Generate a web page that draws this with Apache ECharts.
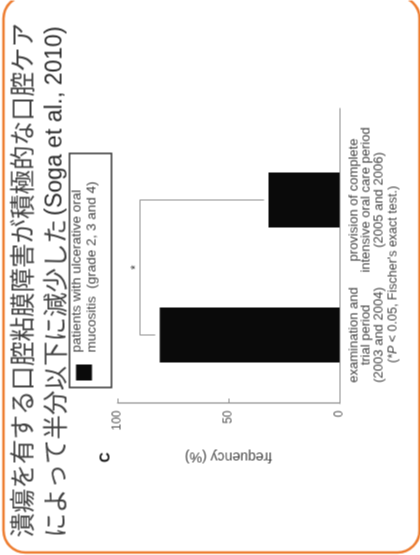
<!DOCTYPE html>
<html>
<head>
<meta charset="utf-8">
<script src="https://cdn.jsdelivr.net/npm/echarts@6/dist/echarts.min.js"></script>
<style>
    html, body {margin: 0; padding: 0; background: #fff; overflow: hidden;}
    /* the slide is shown turned a quarter turn counter-clockwise */
    #main {
        position: absolute; left: -67.5px; top: 67.5px;
        width: 555px; height: 420px;
        transform: rotate(-90deg); transform-origin: 50% 50%;
    }
</style>
</head>
<body>
<div id="main"></div>
<script>
const categories = [
    'examination and\ntrial period\n(2003 and 2004)',
    'provision of complete\nintensive oral care period\n(2005 and 2006)'
];
const frequency = [81, 32];
const axisMin = 0;
const axisMax = 100;
const axisStep = 50;
const bracketLevel = 90;
const bracketEnds = [83, 34];
const seriesName = 'patients with ulcerative oral\nmucositis  (grade 2, 3 and 4)';
const titleLine1 = '潰瘍を有する口腔粘膜障害が積極的な口腔ケア';
const titleLine2 = 'によって半分以下に減少した';
const citation = '(Soga et al., 2010)';

const latin = '"Liberation Sans", Arial, sans-serif';
const jp = '"Noto Sans CJK JP", sans-serif';
const axisGray = '#8a8a8a';

const chart = echarts.init(document.getElementById('main'), null, {renderer: 'canvas'});

chart.setOption({
    animation: false,
    backgroundColor: '#fff',
    textStyle: {fontFamily: latin},
    legend: {
        left: 168,
        top: 69,
        padding: [0, 28, 13, 7],
        borderColor: '#333',
        borderWidth: 1.5,
        selectedMode: false,
        icon: 'rect',
        itemWidth: 16,
        itemHeight: 16,
        textStyle: {
            fontSize: 13.5,
            lineHeight: 15,
            color: '#444',
            // pulls the two text lines down so the first one sits beside the square
            padding: [-11, 0, -11, 7]
        },
        data: [seriesName]
    },
    grid: [
        {left: 152, top: 117, width: 295, height: 222},
        {left: 153, top: 117, width: 270, height: 222}
    ],
    xAxis: [
        {
            gridIndex: 0,
            type: 'category',
            data: categories,
            axisLine: {lineStyle: {color: axisGray, width: 1.2}},
            axisTick: {show: false},
            axisLabel: {show: false}
        },
        {
            gridIndex: 1,
            type: 'category',
            data: categories,
            axisLine: {show: false},
            axisTick: {show: false},
            axisLabel: {
                interval: 0,
                margin: 8,
                fontSize: 13,
                lineHeight: 12.5,
                color: '#444'
            }
        }
    ],
    yAxis: [
        {
            gridIndex: 0,
            type: 'value',
            min: axisMin,
            max: axisMax,
            interval: axisStep,
            name: 'frequency (%)',
            nameLocation: 'middle',
            nameGap: 46,
            nameTextStyle: {fontSize: 14, color: '#444'},
            axisLine: {show: true, lineStyle: {color: axisGray, width: 1.2}},
            axisTick: {show: true, inside: true, length: 5, lineStyle: {color: axisGray}},
            axisLabel: {margin: 7, fontSize: 12, color: '#555'},
            splitLine: {show: false}
        },
        {
            gridIndex: 1,
            type: 'value',
            min: axisMin,
            max: axisMax,
            show: false
        }
    ],
    series: [
        {
            name: seriesName,
            type: 'bar',
            xAxisIndex: 1,
            yAxisIndex: 1,
            barWidth: 55,
            data: frequency,
            itemStyle: {color: '#0a0a0a'},
            markLine: {
                silent: true,
                symbol: ['none', 'none'],
                lineStyle: {color: '#8f8f8f', width: 1, type: 'solid'},
                label: {show: false},
                data: [
                    [{coord: [0, bracketEnds[0]]}, {coord: [0, bracketLevel]}],
                    [
                        {
                            coord: [0, bracketLevel],
                            label: {show: true, position: 'middle', formatter: '*', color: '#333', fontSize: 12, distance: -2}
                        },
                        {coord: [1, bracketLevel]}
                    ],
                    [{coord: [1, bracketLevel]}, {coord: [1, bracketEnds[1]]}]
                ]
            }
        }
    ],
    graphic: [
        {
            type: 'rect',
            silent: true,
            shape: {x: 3, y: 3, width: 556, height: 416, r: 22},
            style: {fill: 'none', stroke: '#ED7D31', lineWidth: 2.5}
        },
        {
            type: 'text',
            x: 18,
            y: 22,
            style: {
                text: titleLine1,
                fontSize: 24.5,
                fontFamily: jp,
                fill: '#404040',
                verticalAlign: 'middle'
            }
        },
        {
            type: 'text',
            x: 18,
            y: 55,
            style: {
                text: '{j|' + titleLine2 + '} {e|' + citation + '}',
                verticalAlign: 'middle',
                rich: {
                    j: {fontSize: 24.5, fontFamily: jp, fill: '#404040'},
                    e: {fontSize: 23, fontFamily: latin, fill: '#2a2a2a'}
                }
            }
        },
        {
            type: 'text',
            x: 98,
            y: 105,
            style: {
                text: 'C',
                font: 'bold 14px ' + latin,
                fill: '#111',
                align: 'center',
                verticalAlign: 'middle'
            }
        },
        {
            type: 'text',
            x: 281,
            y: 393,
            style: {
                text: '({i|*P} < 0.05, Fischer\'s exact test.)',
                fontSize: 12.5,
                fontFamily: latin,
                fill: '#444',
                align: 'center',
                verticalAlign: 'middle',
                rich: {
                    i: {fontSize: 12.5, fontStyle: 'italic', fontFamily: latin, fill: '#444'}
                }
            }
        }
    ]
});
</script>
</body>
</html>
